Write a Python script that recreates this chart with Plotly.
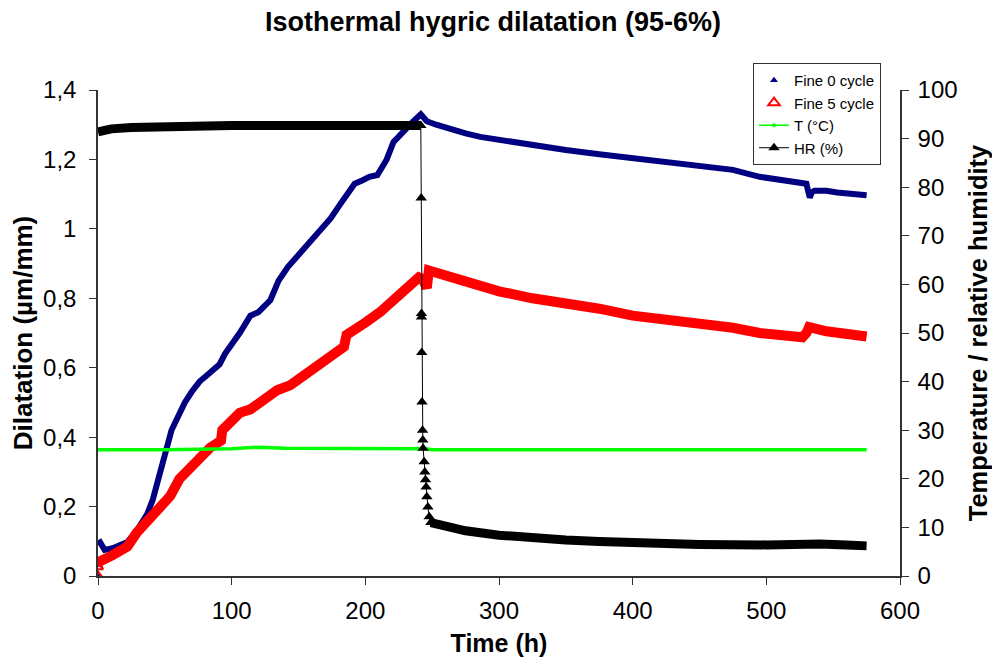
import plotly.graph_objects as go

# ---------------- data ----------------
fine0_time = [0, 0.5, 5, 11, 22, 29, 37, 41, 46, 50, 55, 60, 65, 70, 76, 82, 88, 91, 95, 99,
              106, 114, 120, 129, 135, 142, 151, 158, 166, 174, 181, 187, 192, 198, 203, 209,
              216, 221, 228, 236, 241.5, 246, 253, 261, 275, 286, 300, 325, 350, 375, 400, 425,
              450, 475, 495, 515, 530, 532.5, 534, 536, 545, 553, 565, 575]
fine0 = [0.0, 0.104, 0.075, 0.08, 0.098, 0.13, 0.18, 0.22, 0.29, 0.36, 0.42, 0.46, 0.50, 0.53,
         0.56, 0.58, 0.60, 0.61, 0.64, 0.66, 0.70, 0.75, 0.76, 0.795, 0.85, 0.89, 0.93, 0.96,
         1.0, 1.03, 1.07, 1.10, 1.13, 1.14, 1.15, 1.155, 1.20, 1.25, 1.28, 1.31, 1.33, 1.31,
         1.30, 1.29, 1.275, 1.265, 1.256, 1.24, 1.227, 1.215, 1.204, 1.19, 1.18, 1.17, 1.15,
         1.14, 1.13, 1.09, 1.105, 1.11, 1.11, 1.105, 1.10, 1.097]

fine5_time = [0, 0, 0.5, 11, 22, 29, 37, 41, 46, 54, 61, 69, 76, 84, 90, 92, 93, 100, 106, 114,
              121, 134, 144, 155, 166, 175, 184, 186, 193, 200, 211, 220, 228, 235, 240, 243,
              246, 247.5, 252, 262, 275, 286, 300, 325, 350, 375, 400, 425, 450, 475, 495, 510,
              527, 530, 532, 545, 560, 575]
fine5 = [0.0, 0.026, 0.04, 0.06, 0.085, 0.125, 0.16, 0.18, 0.20, 0.23, 0.28, 0.31, 0.345, 0.37,
         0.385, 0.39, 0.42, 0.45, 0.47, 0.48, 0.50, 0.535, 0.55, 0.58, 0.61, 0.635, 0.66, 0.695,
         0.71, 0.73, 0.76, 0.79, 0.815, 0.84, 0.86, 0.855, 0.83, 0.88, 0.875, 0.86, 0.845, 0.83,
         0.82, 0.80, 0.787, 0.77, 0.75, 0.74, 0.73, 0.715, 0.70, 0.695, 0.688, 0.70, 0.717,
         0.705, 0.698, 0.69]

temp_time = [0, 50, 100, 120, 140, 200, 245, 250, 300, 400, 500, 575]
temp = [26.0, 26.0, 26.2, 26.5, 26.3, 26.2, 26.2, 26.0, 26.0, 26.0, 26.0, 26.0]

hr_time_before = [0, 10, 25, 50, 75, 100, 150, 200, 241.5]
hr_before = [91.4, 92.0, 92.3, 92.5, 92.6, 92.7, 92.7, 92.7, 92.7]

hr_time_drop = [241.5, 241.8, 242, 242, 242.2, 242.4, 242.8, 243, 243.2, 244, 244.5, 245,
                245.5, 246, 246.8, 247.8, 249]
hr_drop = [92.7, 77.8, 54, 53.3, 46, 35.8, 30, 28, 26.3, 23.5, 21.4, 19.8, 18.3, 16.3, 14.2,
           12.2, 11.0]

hr_time_after = [249, 255, 262, 275, 300, 325, 350, 375, 400, 450, 500, 515, 525, 540, 560, 575]
hr_after = [11.0, 10.5, 10.1, 9.3, 8.4, 7.8, 7.4, 7.1, 6.8, 6.5, 6.4, 6.5, 6.9, 6.6, 6.4, 6.2]

x_ticks = [0, 100, 200, 300, 400, 500, 600]

NAVY = "#000080"
RED = "#FF0000"
GREEN = "#00FF00"
FONT = "Liberation Sans, Arial, sans-serif"

fig = go.Figure()

# Fine 0 cycle
fig.add_trace(go.Scatter(x=fine0_time[1:], y=fine0[1:], mode="lines",
                         line=dict(color=NAVY, width=6), showlegend=False))
fig.add_trace(go.Scatter(x=fine0_time[:1], y=fine0[:1], mode="markers",
                         marker=dict(symbol="triangle-up", color=NAVY, size=6), showlegend=False))
# Fine 5 cycle
fig.add_trace(go.Scatter(x=fine5_time[1:], y=fine5[1:], mode="lines",
                         line=dict(color=RED, width=10), showlegend=False))
fig.add_trace(go.Scatter(x=fine5_time[:2], y=fine5[:2], mode="markers",
                         marker=dict(symbol="triangle-up-open", color=RED, size=9,
                                     line=dict(width=2, color=RED)), showlegend=False))
# T
fig.add_trace(go.Scatter(x=temp_time, y=temp, mode="lines", yaxis="y2",
                         line=dict(color=GREEN, width=3.5), showlegend=False))
# HR
fig.add_trace(go.Scatter(x=hr_time_before, y=hr_before, mode="lines", yaxis="y2",
                         line=dict(color="black", width=9), showlegend=False))
fig.add_trace(go.Scatter(x=hr_time_after, y=hr_after, mode="lines", yaxis="y2",
                         line=dict(color="black", width=9), showlegend=False))
fig.add_trace(go.Scatter(x=hr_time_drop, y=hr_drop, mode="lines+markers", yaxis="y2",
                         line=dict(color="black", width=1),
                         marker=dict(symbol="triangle-up", color="black", size=10),
                         name="HR (%)", legendrank=4))

# legend entries
fig.add_trace(go.Scatter(x=[None], y=[None], mode="markers", name="Fine 0 cycle",
                         marker=dict(symbol="triangle-up", color=NAVY, size=7), legendrank=1))
fig.add_trace(go.Scatter(x=[None], y=[None], mode="markers", name="Fine 5 cycle",
                         marker=dict(symbol="triangle-up-open", color=RED, size=10,
                                     line=dict(width=2, color=RED)), legendrank=2))
fig.add_trace(go.Scatter(x=[None], y=[None], mode="lines+markers", name="T (°C)",
                         line=dict(color=GREEN, width=1.5),
                         marker=dict(symbol="circle", color=GREEN, size=4), legendrank=3))

axis_common = dict(showline=True, linecolor="#333333", linewidth=1.5, ticks="outside",
                   ticklen=7, tickcolor="#333333", showgrid=False, zeroline=False,
                   automargin=False,
                   tickfont=dict(family=FONT, size=24, color="black"))

# The page body adds an 8px offset; margins compensate so the plot area sits at 98..900 x 90..576
fig.update_layout(
    width=1000, height=667,
    paper_bgcolor="white", plot_bgcolor="white",
    margin=dict(l=90, r=108, t=82, b=99),
    separators=", ",
    font=dict(family=FONT, color="black"),
    title=dict(text="<b>Isothermal hygric dilatation (95-6%)</b>", x=0.485, xanchor="center",
               y=0.979, yanchor="middle", yref="container",
               font=dict(family=FONT, size=27, color="black")),
    xaxis=dict(range=[0, 600], tickvals=x_ticks, ticklabelstandoff=5, **axis_common,
               title=dict(text="<b>Time (h)</b>", font=dict(family=FONT, size=25), standoff=12)),
    yaxis=dict(range=[0, 1.4], dtick=0.2, ticklabelstandoff=8, **axis_common,
               title=dict(text="<b>Dilatation (µm/mm)</b>", font=dict(family=FONT, size=26),
                          standoff=10)),
    yaxis2=dict(range=[0, 100], dtick=10, overlaying="y", side="right", anchor="x",
                ticklabelstandoff=4, **axis_common,
                title=dict(text="<b>Temperature / relative humidity</b>",
                           font=dict(family=FONT, size=25.5), standoff=13)),
    legend=dict(x=0.8167, y=1.0556, xanchor="left", yanchor="top",
                bgcolor="white", bordercolor="#333333", borderwidth=1,
                font=dict(family=FONT, size=15, color="black"), tracegroupgap=0),
)

fig.write_html("out.html")
